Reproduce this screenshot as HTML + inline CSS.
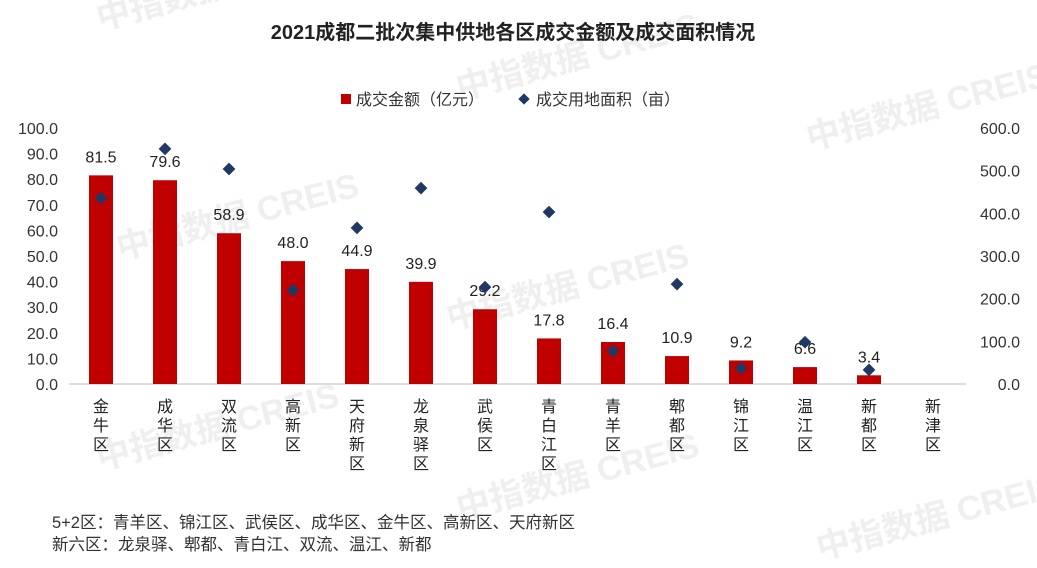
<!DOCTYPE html>
<html><head><meta charset="utf-8"><style>
body{margin:0;background:#fff;}
svg text{font-family:"Liberation Sans","Noto Sans CJK SC",sans-serif;}
</style></head><body>
<svg id="chart" width="1037" height="563" xmlns="http://www.w3.org/2000/svg">
<g fill="#efefef" font-size="34" font-weight="bold">
<text x="100" y="30" transform="rotate(-15 100 30)">中指数据</text>
<text x="460" y="100" transform="rotate(-15 460 100)">中指数据 CREIS</text>
<text x="810" y="150" transform="rotate(-15 810 150)">中指数据 CREIS</text>
<text x="120" y="260" transform="rotate(-15 120 260)">中指数据 CREIS</text>
<text x="450" y="330" transform="rotate(-15 450 330)">中指数据 CREIS</text>
<text x="100" y="470" transform="rotate(-15 100 470)">中指数据 CREIS</text>
<text x="460" y="520" transform="rotate(-15 460 520)">中指数据 CREIS</text>
<text x="820" y="560" transform="rotate(-15 820 560)">中指数据 CREIS</text>
</g>
<text x="513" y="39" text-anchor="middle" font-size="20" font-weight="bold" fill="#222">2021成都二批次集中供地各区成交金额及成交面积情况</text>
<g>
<rect x="341" y="94" width="10" height="10" fill="#c00000"/>
<text x="356" y="105" font-size="16" fill="#333">成交金额（亿元）</text>
<rect x="520" y="95" width="8" height="8" fill="#1f3864" transform="rotate(45 524 99)"/>
<text x="536" y="105" font-size="16" fill="#333">成交用地面积（亩）</text>
</g>
<g id="plot"></g>
<text x="52" y="528" font-size="16.5" fill="#333">5+2区：青羊区、锦江区、武侯区、成华区、金牛区、高新区、天府新区</text>
<text x="52" y="550" font-size="16.5" fill="#333">新六区：龙泉驿、郫都、青白江、双流、温江、新都</text>
</svg>
<script>
const categories=["金牛区","成华区","双流区","高新区","天府新区","龙泉驿区","武侯区","青白江区","青羊区","郫都区","锦江区","温江区","新都区","新津区"];
const amounts=[81.5,79.6,58.9,48.0,44.9,39.9,29.2,17.8,16.4,10.9,9.2,6.6,3.4,null];
const areas=[436,551,504,220,366,459,227,403,77,234,37,98,33,null];
const leftTicks=[0,10,20,30,40,50,60,70,80,90,100];
const rightTicks=[0,100,200,300,400,500,600];
const NS="http://www.w3.org/2000/svg";
const g=document.getElementById('plot');
const y0=384,y1=128;
const yL=v=>y0-(v/100)*(y0-y1);
const yR=v=>y0-(v/600)*(y0-y1);
const xC=i=>101+i*64;
function mk(t,a){const e=document.createElementNS(NS,t);for(const k in a)e.setAttribute(k,a[k]);g.appendChild(e);return e;}
leftTicks.forEach(v=>{const t=mk('text',{x:58,y:yL(v)+6,'text-anchor':'end','font-size':16,fill:'#333'});t.textContent=v.toFixed(1);

});
rightTicks.forEach(v=>{const t=mk('text',{x:1020,y:yR(v)+6,'text-anchor':'end','font-size':16,fill:'#333'});t.textContent=v.toFixed(1);

});
const ax=mk('line',{x1:69,x2:966,y1:y0,y2:y0,stroke:'#bbb','stroke-width':1});


categories.forEach((c,i)=>{
  const x=xC(i);
  if(amounts[i]!=null){
    const b=mk('rect',{x:x-12,y:yL(amounts[i]),width:24,height:y0-yL(amounts[i]),fill:'#c00000'});
    
    
    const l=mk('text',{x:x,y:yL(amounts[i])-13,'text-anchor':'middle','font-size':16,fill:'#222'});l.textContent=amounts[i].toFixed(1);
    
    
  }
  if(areas[i]!=null){
    const y=yR(areas[i]);
    const d=mk('rect',{x:x-4.5,y:y-4.5,width:9,height:9,fill:'#1f3864',transform:`rotate(45 ${x} ${y})`});
    
    
  }
  [...c].forEach((ch,j)=>{const t=mk('text',{x:x,y:412+j*19,'text-anchor':'middle','font-size':16,fill:'#222'});t.textContent=ch;
    
    });
});
</script>
</body></html>
